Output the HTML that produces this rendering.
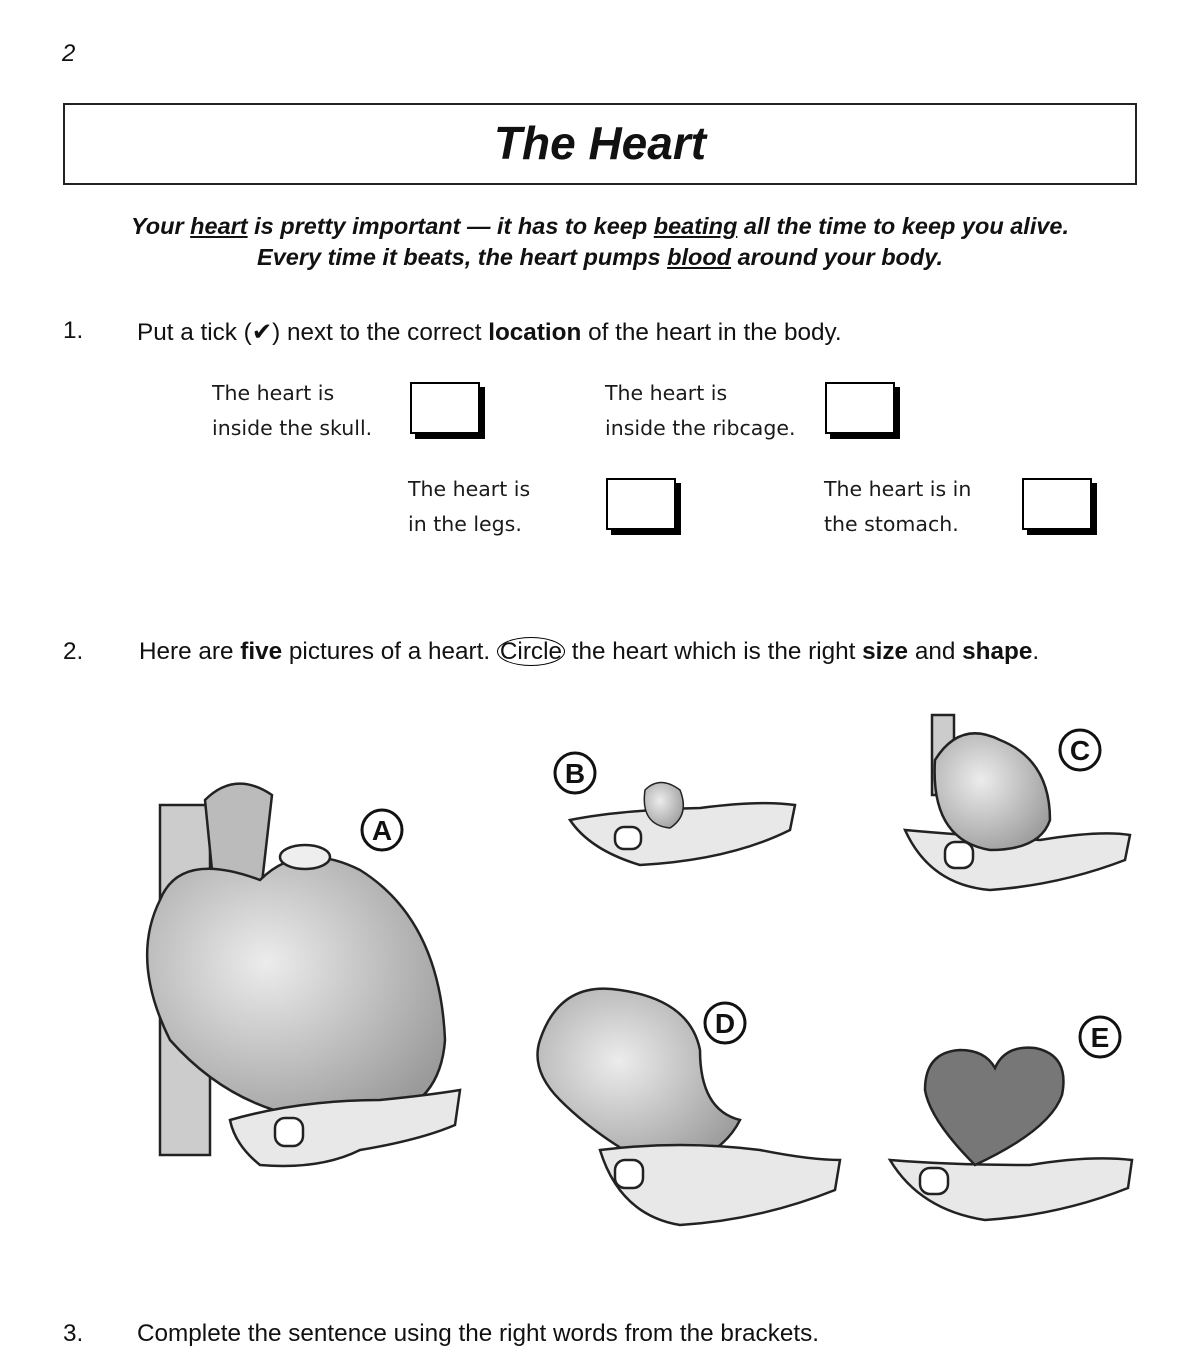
<!DOCTYPE html>
<html><head><meta charset="utf-8"><style>
body{margin:0;width:1200px;height:1358px;background:#fff;position:relative;overflow:hidden;font-family:"Liberation Sans",sans-serif;color:#111}
.a{position:absolute;white-space:nowrap}
.hw{font-family:"DejaVu Sans","Liberation Sans",sans-serif;font-size:20.5px;line-height:35px;color:#1a1a1a}
.box{position:absolute;width:66px;height:48px;border:2px solid #000;box-shadow:5px 5px 0 #000;background:#fff}
.q{font-size:24.3px}
.it{font-style:italic;font-weight:bold;font-size:23.5px}
</style></head><body>
<div class="a" style="left:62px;top:40px;font-size:24px;font-style:italic">2</div>
<div class="a" style="left:63px;top:103px;width:1070px;height:78px;border:2px solid #222"></div>
<div class="a" style="left:63px;top:116px;width:1074px;text-align:center;font-size:46px;font-style:italic;font-weight:bold">The Heart</div>
<div class="a it" style="left:0;top:213px;width:1200px;text-align:center">Your <u>heart</u> is pretty important — it has to keep <u>beating</u> all the time to keep you alive.</div>
<div class="a it" style="left:0;top:244px;width:1200px;text-align:center">Every time it beats, the heart pumps <u>blood</u> around your body.</div>
<div class="a q" style="left:63px;top:317px">1.</div>
<div class="a q" style="left:137px;top:317px">Put a tick (✔) next to the correct <b>location</b> of the heart in the body.</div>
<div class="a hw" style="left:212px;top:376px">The heart is<br>inside the skull.</div>
<div class="box" style="left:410px;top:382px"></div>
<div class="a hw" style="left:605px;top:376px">The heart is<br>inside the ribcage.</div>
<div class="box" style="left:825px;top:382px"></div>
<div class="a hw" style="left:408px;top:472px">The heart is<br>in the legs.</div>
<div class="box" style="left:606px;top:478px"></div>
<div class="a hw" style="left:824px;top:472px">The heart is in<br>the stomach.</div>
<div class="box" style="left:1022px;top:478px"></div>
<div class="a q" style="left:63px;top:638px">2.</div>
<div class="a q" style="left:139px;top:638px">Here are <b>five</b> pictures of a heart. <span style="border:1.5px solid #000;border-radius:50%;padding:0 2px">Circle</span> the heart which is the right <b>size</b> and <b>shape</b>.</div>
<svg class="a" style="left:0;top:0" width="1200" height="1358">
<defs><radialGradient id="g" cx="0.4" cy="0.4" r="0.7"><stop offset="0" stop-color="#ececec"/><stop offset="1" stop-color="#9a9a9a"/></radialGradient></defs>
<g stroke="#222" stroke-width="2.5">
<rect x="160" y="805" width="50" height="350" fill="#ccc"/>
<path d="M205 800 Q235 770 272 795 L260 900 L215 900 Z" fill="#bbb"/>
<path d="M160 900 Q180 850 260 880 Q300 840 360 870 Q440 920 445 1040 Q440 1110 370 1120 Q250 1130 170 1040 Q130 960 160 900Z" fill="url(#g)"/>
<ellipse cx="305" cy="857" rx="25" ry="12" fill="#eee"/>
<path d="M230 1120 Q300 1100 380 1100 Q430 1095 460 1090 L455 1125 Q420 1140 360 1150 Q320 1170 260 1165 Q235 1145 230 1120Z" fill="#e8e8e8"/>
<rect x="275" y="1118" width="28" height="28" rx="10" fill="#fff"/>
<path d="M570 820 Q620 810 700 808 Q760 800 795 805 L790 830 Q730 860 640 865 Q590 850 570 820Z" fill="#e8e8e8"/>
<path d="M645 790 Q660 775 680 790 Q690 815 670 828 Q640 825 645 790Z" fill="url(#g)" stroke-width="1.5"/>
<rect x="615" y="827" width="26" height="22" rx="9" fill="#fff"/>
<path d="M905 830 Q960 835 1040 840 Q1100 830 1130 835 L1125 860 Q1060 885 990 890 Q930 885 905 830Z" fill="#e8e8e8"/>
<rect x="932" y="715" width="22" height="80" fill="#ccc"/>
<path d="M935 760 Q960 720 1000 740 Q1050 760 1050 820 Q1040 850 990 850 Q930 840 935 760Z" fill="url(#g)"/>
<rect x="945" y="842" width="28" height="26" rx="10" fill="#fff"/>
<path d="M540 1040 Q560 980 620 990 Q690 1000 700 1050 Q700 1110 740 1120 Q720 1160 660 1170 Q600 1140 560 1100 Q530 1070 540 1040Z" fill="url(#g)"/>
<path d="M600 1150 Q680 1140 760 1150 Q810 1160 840 1160 L835 1190 Q760 1220 680 1225 Q620 1215 600 1150Z" fill="#e8e8e8"/>
<rect x="615" y="1160" width="28" height="28" rx="10" fill="#fff"/>
<path d="M890 1160 Q950 1165 1030 1165 Q1090 1155 1132 1160 L1128 1188 Q1060 1215 985 1220 Q920 1210 890 1160Z" fill="#e8e8e8"/>
<path d="M975 1165 Q930 1120 925 1090 Q925 1052 960 1050 Q985 1050 995 1068 Q1005 1045 1035 1048 Q1070 1055 1062 1095 Q1050 1130 975 1165Z" fill="#777"/>
<rect x="920" y="1168" width="28" height="26" rx="10" fill="#fff"/>
</g>
<g fill="#fff" stroke="#111" stroke-width="3">
<circle cx="382" cy="830" r="20"/><circle cx="575" cy="773" r="20"/><circle cx="1080" cy="750" r="20"/><circle cx="725" cy="1023" r="20"/><circle cx="1100" cy="1037" r="20"/>
</g>
<g font-family="Liberation Sans" font-weight="bold" font-size="28" text-anchor="middle" fill="#111">
<text x="382" y="840">A</text><text x="575" y="783">B</text><text x="1080" y="760">C</text><text x="725" y="1033">D</text><text x="1100" y="1047">E</text>
</g>
</svg>
<div class="a q" style="left:63px;top:1320px">3.</div>
<div class="a q" style="left:137px;top:1320px">Complete the sentence using the right words from the brackets.</div>
</body></html>
